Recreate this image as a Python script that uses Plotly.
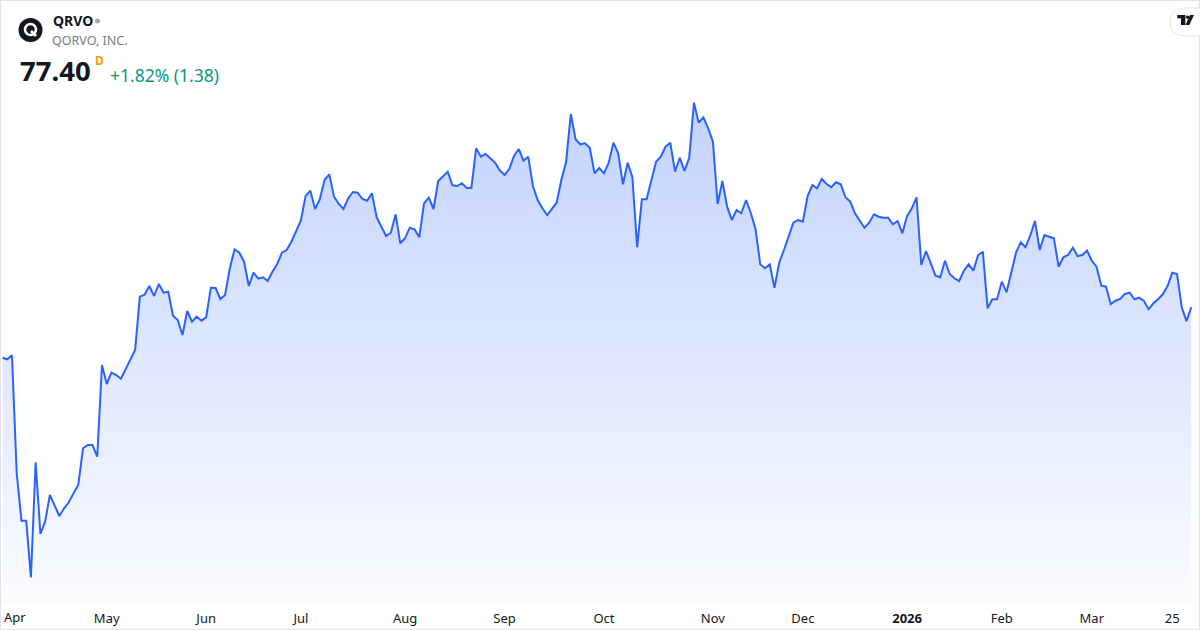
import pandas as pd
import plotly.graph_objects as go

# --- data: QRVO daily closes, 2025-03-31 .. 2026-03-31 (trading days) ---
holidays = ["2025-04-18", "2025-05-26", "2025-06-19", "2025-07-04", "2025-09-01",
            "2025-11-27", "2025-12-25", "2026-01-01", "2026-01-19", "2026-02-16"]
days = pd.bdate_range("2025-03-31", "2026-03-31")
dates = [d.strftime("%Y-%m-%d") for d in days if d.strftime("%Y-%m-%d") not in holidays]

close = [
    72.36, 72.20, 72.60, 60.80, 56.06, 56.06, 50.40, 61.90, 54.73, 55.96,
    58.63, 57.58, 56.53, 57.30, 57.90, 58.80, 59.63, 63.30, 63.63, 63.63,
    62.46, 71.63, 69.73, 70.86, 70.63, 70.26, 71.20, 72.30, 73.13, 78.46,
    78.66, 79.53, 78.53, 79.73, 78.86, 78.96, 76.56, 76.13, 74.63, 77.03,
    75.96, 76.46, 76.06, 76.40, 79.36, 79.33, 78.23, 78.63, 81.30, 83.20,
    82.86, 81.96, 79.53, 80.86, 80.26, 80.40, 80.03, 80.96, 81.73, 82.86,
    83.13, 83.96, 84.96, 86.08, 88.53, 89.06, 87.23, 88.20, 90.13, 90.70,
    88.46, 87.73, 87.23, 88.30, 88.93, 88.86, 88.23, 88.06, 88.80, 86.40,
    85.46, 84.53, 84.86, 86.70, 83.80, 84.30, 85.36, 85.20, 84.40, 87.80,
    88.36, 87.23, 90.03, 90.46, 90.96, 89.60, 89.53, 89.80, 89.33, 89.33,
    93.30, 92.46, 92.73, 92.30, 91.86, 91.10, 90.63, 91.23, 92.53, 93.23,
    92.06, 92.46, 89.53, 88.13, 87.30, 86.63, 87.20, 87.86, 90.13, 91.96,
    96.73, 94.20, 93.70, 93.80, 93.36, 90.80, 91.33, 90.80, 91.86, 93.86,
    92.80, 89.70, 91.86, 90.40, 83.40, 88.20, 88.20, 90.13, 91.96, 92.46,
    93.46, 93.86, 90.96, 92.36, 91.03, 92.36, 97.86, 95.86, 96.40, 95.30,
    93.96, 87.73, 90.03, 87.46, 86.13, 87.13, 86.80, 88.13, 86.83, 85.20,
    81.70, 81.30, 81.70, 79.36, 81.86, 83.13, 84.53, 85.86, 86.13, 85.96,
    88.53, 89.63, 89.30, 90.23, 89.73, 89.40, 89.90, 89.70, 88.40, 87.96,
    86.80, 86.13, 85.36, 85.86, 86.70, 86.46, 86.36, 86.36, 85.70, 86.03,
    84.80, 86.53, 87.30, 88.40, 81.63, 83.03, 81.86, 80.56, 80.40, 82.06,
    80.73, 80.30, 80.03, 81.06, 81.70, 81.06, 82.63, 82.96, 77.30, 78.20,
    78.20, 79.96, 78.90, 81.03, 82.86, 83.90, 83.40, 84.56, 86.03, 83.13,
    84.63, 84.46, 84.30, 81.46, 82.40, 82.63, 83.36, 82.53, 82.63, 83.06,
    82.06, 81.46, 79.56, 79.46, 77.73, 78.06, 78.23, 78.73, 78.86, 78.20,
    78.36, 78.03, 77.20, 77.80, 78.20, 78.70, 79.53, 80.86, 80.73, 77.40,
    76.02, 77.40,
]

tick_dates = ["2025-05-01", "2025-06-02", "2025-07-01", "2025-08-01", "2025-09-02",
              "2025-10-01", "2025-11-03", "2025-12-01", "2026-01-02", "2026-02-02",
              "2026-03-02", "2026-03-25"]
tick_text = ["May", "Jun", "Jul", "Aug", "Sep", "Oct", "Nov", "Dec", "<b>2026</b>",
             "Feb", "Mar", "25"]

symbol = "QRVO"
company = "QORVO, INC."
last_price = 77.40
change = 1.38
change_pct = 1.82

# --- layout helpers (pixel -> paper, plot area is 1200 x 603) ---
W, H, PLOT_H = 1200, 630, 603
Y_LO, Y_HI = 47.83, 108.13
FONT = "Noto Sans"


def px(x):
    return x / W


def py(y):
    return (PLOT_H - y) / PLOT_H


fig = go.Figure()
fig.add_trace(go.Scatter(
    x=dates, y=close, mode="lines",
    line=dict(color="#2962FF", width=2),
    fill="tozeroy",
    fillgradient=dict(
        type="vertical", start=Y_LO, stop=max(close),
        colorscale=[[0, "rgba(41,98,255,0.02)"], [1, "rgba(41,98,255,0.28)"]],
    ),
    hoverinfo="skip",
))

shapes = [
    # chart border
    dict(type="rect", xref="paper", yref="paper", x0=px(0.5), x1=px(1199.5),
         y0=py(629.5), y1=py(0.5), line=dict(color="#e0e3eb", width=1)),
    # company logo
    dict(type="circle", xref="paper", yref="paper", x0=px(18.5), x1=px(42.5),
         y0=py(42), y1=py(18), fillcolor="#131722", line_width=0),
    dict(type="circle", xref="paper", yref="paper", x0=px(25), x1=px(36),
         y0=py(35), y1=py(24), line=dict(color="white", width=2.6)),
    dict(type="line", xref="paper", yref="paper", x0=px(31), x1=px(36),
         y0=py(31), y1=py(36), line=dict(color="white", width=2.6)),
    # status dot
    dict(type="circle", xref="paper", yref="paper", x0=px(95), x1=px(100),
         y0=py(23.5), y1=py(18.5), fillcolor="#a3a6af", line_width=0),
    # TradingView badge
    dict(type="path", xref="paper", yref="paper",
         path=(f"M {px(1201)},{py(8)} L {px(1185)},{py(8)} "
               f"Q {px(1170)},{py(8)} {px(1170)},{py(22)} "
               f"Q {px(1170)},{py(36)} {px(1185)},{py(36)} L {px(1201)},{py(36)} Z"),
         fillcolor="white", line=dict(color="rgba(0,0,0,0.10)", width=1)),
    dict(type="rect", xref="paper", yref="paper", x0=px(1177.3), x1=px(1185.3),
         y0=py(18.3), y1=py(15), fillcolor="#131722", line_width=0),
    dict(type="rect", xref="paper", yref="paper", x0=px(1181), x1=px(1185.3),
         y0=py(25), y1=py(15), fillcolor="#131722", line_width=0),
    dict(type="circle", xref="paper", yref="paper", x0=px(1186), x1=px(1189.4),
         y0=py(19), y1=py(15.6), fillcolor="#131722", line_width=0),
    dict(type="path", xref="paper", yref="paper",
         path=(f"M {px(1190)},{py(15)} L {px(1194)},{py(15)} "
               f"L {px(1189.3)},{py(25)} L {px(1185.5)},{py(25)} Z"),
         fillcolor="#131722", line_width=0),
]

annotations = [
    dict(text=f"<b>{symbol}</b>", x=px(50.5), y=py(21), font=dict(size=14, color="#131722")),
    dict(text=company, x=px(50), y=py(40.5), font=dict(size=12.5, color="#787b86")),
    dict(text=f"<b>{last_price:.2f}</b>", x=px(17.5), y=py(70.5),
         font=dict(size=27.5, color="#131722")),
    dict(text="<b>D</b>", x=px(92.5), y=py(61), font=dict(size=12, color="#ff9800")),
    dict(text=f"+{change_pct:.2f}% ({change:.2f})", x=px(107.5), y=py(75),
         font=dict(size=17.5, color="#089981")),
    dict(text="Apr", x=px(2), y=py(617), font=dict(size=13, color="#131722")),
]
for a in annotations:
    a.update(xref="paper", yref="paper", xanchor="left", yanchor="middle",
             showarrow=False)

fig.update_layout(
    width=W, height=H,
    margin=dict(l=0, r=0, t=0, b=H - PLOT_H),
    paper_bgcolor="white", plot_bgcolor="white",
    font=dict(family=FONT, color="#131722"),
    showlegend=False,
    shapes=shapes,
    annotations=annotations,
    xaxis=dict(
        type="category", range=[-0.53, 252.85],
        tickvals=tick_dates, ticktext=tick_text,
        tickfont=dict(size=13, color="#131722"),
        ticklabelstandoff=6,
        showgrid=False, zeroline=False, showline=False, ticks="",
    ),
    yaxis=dict(range=[Y_LO, Y_HI], visible=False, showgrid=False, zeroline=False),
)

fig.write_html("out.html", config={"displayModeBar": False},
               post_script="document.body.style.margin='0';")
